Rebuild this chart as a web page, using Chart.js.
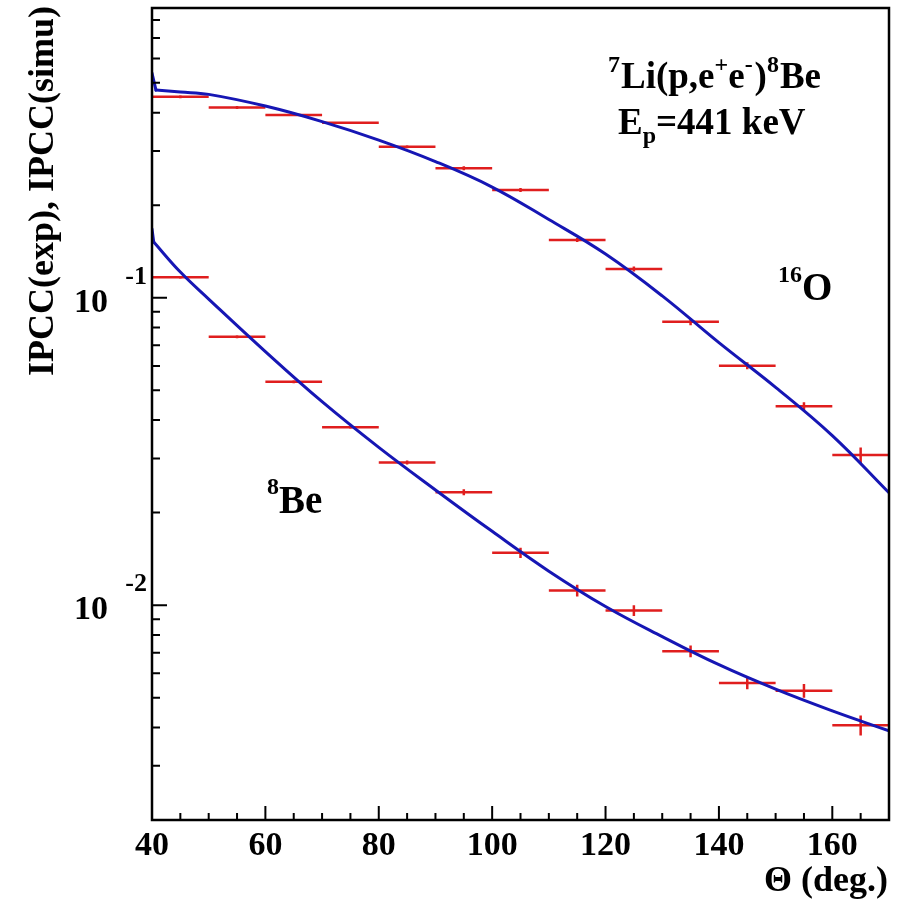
<!DOCTYPE html>
<html>
<head>
<meta charset="utf-8">
<script src="https://cdn.jsdelivr.net/npm/chart.js@4/dist/chart.umd.min.js"></script>
<style>
  html, body { margin: 0; padding: 0; background: #fff; }
  #c { display: block; }
</style>
</head>
<body>
<canvas id="c" width="897" height="907"></canvas>
<script>
// Measured internal pair conversion coefficients, 10-degree angular bins
const theta = [45, 55, 65, 75, 85, 95, 105, 115, 125, 135, 145, 155, 165];
const binHalfWidth = 5;

const ipccO16 = [0.4505, 0.416, 0.393, 0.371, 0.310, 0.264, 0.224, 0.154, 0.124, 0.0835, 0.0601, 0.0444, 0.0308];
const errO16Pct = [1.1, 1.1, 0.8, 0.8, 1.1, 1.5, 1.5, 1.5, 1.9, 2.5, 2.7, 3.0, 5.8];

const ipccBe8 = [0.1165, 0.0747, 0.0533, 0.0379, 0.0291, 0.0233, 0.0148, 0.01115, 0.0096, 0.00708, 0.00558, 0.00527, 0.00407];
const errBe8Pct = [1.1, 1.1, 1.1, 1.1, 1.5, 2.3, 3.8, 4.4, 4.0, 4.4, 4.6, 5.1, 7.5];

// Simulated IPCC curves (first two points: the hook at the lower edge of the range)
const simThetaO16 = [40, 40.7, 45, 50, 60, 70, 80, 90, 100, 110, 120, 130, 140, 150, 160, 170];
const simO16 = [0.538, 0.4736, 0.4667, 0.4587, 0.4202, 0.3741, 0.3257, 0.2773, 0.2291, 0.1796, 0.1387, 0.1014, 0.0714, 0.0511, 0.0356, 0.0232];

const simThetaBe8 = [40, 40.3, 45, 50, 60, 70, 80, 90, 100, 110, 120, 130, 140, 150, 160, 170];
const simBe8 = [0.1673, 0.1518, 0.1212, 0.0990, 0.0668, 0.0459, 0.0326, 0.0237, 0.01738, 0.0129, 0.0099, 0.0079, 0.0064, 0.00533, 0.00453, 0.0039];

// Axis ticks
const xRange = [40, 170];
const yRange = [0.002, 0.876];
const xTickLabels = [40, 60, 80, 100, 120, 140, 160];
const yDecades = [-2, -1];

const RED = '#e01e1e';
const BLUE = '#1616b4';
const FONT = "'Liberation Serif', 'Times New Roman', serif";

// Error-bar segments: horizontal bin width plus vertical error, separated by gaps
function errorSegments(xs, ys, pct) {
  const pts = [];
  xs.forEach((x, i) => {
    const y = ys[i], e = y * pct[i] / 100;
    pts.push({x: x - binHalfWidth, y}, {x: x + binHalfWidth, y}, {x: x + binHalfWidth, y: null});
    pts.push({x, y: y - e}, {x, y: y + e}, {x, y: null});
  });
  return pts;
}
function curvePoints(xs, ys, from, to) {
  return xs.map((x, i) => ({x, y: ys[i]})).slice(from, to);
}

function drawRich(ctx, parts, x, baseline) {
  let cx = x;
  parts.forEach(p => {
    const size = p.size || 37;
    ctx.font = 'bold ' + size + 'px ' + FONT;
    ctx.textAlign = 'left';
    ctx.textBaseline = 'alphabetic';
    ctx.fillText(p.t, cx, baseline + (p.dy || 0));
    cx += ctx.measureText(p.t).width + (p.gap || 0);
  });
}

const framePlugin = {
  id: 'rootFrame',
  afterDatasetsDraw(chart) {
    const {ctx, chartArea: {left, right, top, bottom}, scales: {x, y}} = chart;
    ctx.save();
    ctx.fillStyle = '#000';
    ctx.strokeStyle = '#000';

    // x ticks (inside the frame)
    ctx.lineWidth = 2;
    ctx.beginPath();
    for (let v = xRange[0]; v <= xRange[1]; v += 5) {
      const px = x.getPixelForValue(v);
      const len = (v % 20 === 0) ? 14 : 7;
      ctx.moveTo(px, bottom);
      ctx.lineTo(px, bottom - len);
    }
    // y ticks, log scale
    for (let d = -3; d <= 0; d++) {
      for (let k = 1; k <= 9; k++) {
        const v = k * Math.pow(10, d);
        if (v < yRange[0] * 0.999 || v > yRange[1]) continue;
        const py = y.getPixelForValue(v);
        const len = (k === 1) ? 15 : 8;
        ctx.moveTo(left, py);
        ctx.lineTo(left + len, py);
      }
    }
    ctx.stroke();

    // frame
    ctx.lineWidth = 2.5;
    ctx.strokeRect(left, top, right - left, bottom - top);

    // x tick labels
    ctx.font = 'bold 34px ' + FONT;
    ctx.textAlign = 'center';
    ctx.textBaseline = 'alphabetic';
    xTickLabels.forEach(v => {
      ctx.fillText(String(v), x.getPixelForValue(v), bottom + 35);
    });

    // y tick labels: 10 with exponent
    yDecades.forEach(d => {
      const py = y.getPixelForValue(Math.pow(10, d));
      ctx.font = 'bold 34px ' + FONT;
      ctx.textAlign = 'right';
      ctx.fillText('10', left - 44, py + 14);
      ctx.font = 'bold 26px ' + FONT;
      ctx.textAlign = 'right';
      ctx.fillText(String(d), left - 5, py - 14);
    });

    // axis titles
    ctx.font = 'bold 36px ' + FONT;
    ctx.textAlign = 'right';
    ctx.fillText('\u0398 (deg.)', right - 1, bottom + 71);

    ctx.save();
    ctx.translate(53, 6);
    ctx.rotate(-Math.PI / 2);
    ctx.font = 'bold 36px ' + FONT;
    ctx.textAlign = 'right';
    ctx.fillText('IPCC(exp), IPCC(simu)', 0, 0);
    ctx.restore();

    // annotations
    drawRich(ctx, [
      {t: '7', size: 24, dy: -16, gap: 1},
      {t: 'Li(p,e'},
      {t: '+', size: 24, dy: -16},
      {t: 'e'},
      {t: '-', size: 24, dy: -16, gap: 2},
      {t: ')'},
      {t: '8', size: 24, dy: -16, gap: 1},
      {t: 'Be'}
    ], 608, 88);
    drawRich(ctx, [
      {t: 'E'},
      {t: 'p', size: 24, dy: 9},
      {t: '=441 keV'}
    ], 618, 134);
    drawRich(ctx, [
      {t: '16', size: 24, dy: -18},
      {t: 'O', size: 39}
    ], 778, 300);
    drawRich(ctx, [
      {t: '8', size: 24, dy: -19},
      {t: 'Be', size: 39}
    ], 267, 513);

    ctx.restore();
  }
};

function curveSet(data, tension) {
  return {
    data, borderColor: BLUE, borderWidth: 3, pointRadius: 0,
    tension, borderCapStyle: 'round', borderJoinStyle: 'round', order: 0
  };
}

new Chart(document.getElementById('c'), {
  type: 'line',
  data: {
    datasets: [
      curveSet(curvePoints(simThetaO16, simO16, 1), 0.4),
      curveSet(curvePoints(simThetaO16, simO16, 0, 2), 0),
      curveSet(curvePoints(simThetaBe8, simBe8, 1), 0.4),
      curveSet(curvePoints(simThetaBe8, simBe8, 0, 2), 0),
      {
        data: errorSegments(theta, ipccO16, errO16Pct),
        borderColor: RED, borderWidth: 2.5,
        pointRadius: 0, tension: 0, spanGaps: false, order: 1
      },
      {
        data: errorSegments(theta, ipccBe8, errBe8Pct),
        borderColor: RED, borderWidth: 2.5,
        pointRadius: 0, tension: 0, spanGaps: false, order: 1
      }
    ]
  },
  options: {
    responsive: false,
    animation: false,
    events: [],
    layout: { padding: { left: 152, top: 8, right: 8, bottom: 87 } },
    plugins: { legend: { display: false }, tooltip: { enabled: false }, title: { display: false } },
    scales: {
      x: { type: 'linear', min: xRange[0], max: xRange[1], display: false },
      y: { type: 'logarithmic', min: yRange[0], max: yRange[1], display: false }
    }
  },
  plugins: [framePlugin]
});
</script>
</body>
</html>
